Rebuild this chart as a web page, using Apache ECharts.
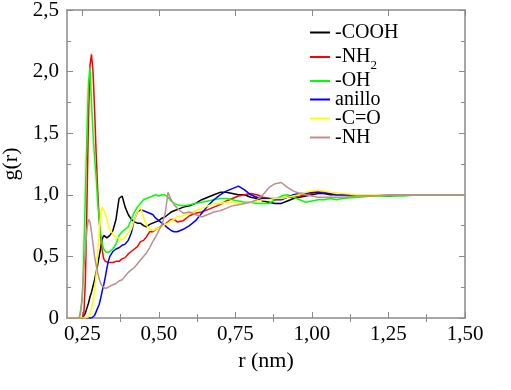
<!DOCTYPE html>
<html><head><meta charset="utf-8">
<script src="https://cdn.jsdelivr.net/npm/echarts@6/dist/echarts.min.js"></script>
<style>html,body{margin:0;padding:0;background:#fff}#c{width:511px;height:390px}</style>
</head><body><div id="c"></div>
<script>
// r (nm)
const r = [0.20,0.22,0.23,0.24,0.245,0.25,0.255,0.26,0.265,0.27,
  0.275,0.28,0.285,0.29,0.295,0.30,0.305,0.31,0.315,0.32,
  0.325,0.33,0.335,0.34,0.35,0.36,0.37,0.38,0.39,0.40,
  0.41,0.42,0.43,0.44,0.45,0.46,0.47,0.48,0.49,0.50,
  0.51,0.52,0.53,0.54,0.55,0.56,0.58,0.60,0.62,0.64,
  0.66,0.68,0.70,0.72,0.74,0.76,0.78,0.80,0.82,0.84,
  0.86,0.88,0.90,0.92,0.94,0.96,0.98,1.00,1.02,1.04,
  1.06,1.08,1.10,1.15,1.20,1.25,1.30,1.35,1.40,1.45,1.50];

const gCOOH = [0,0,0,0,0,0,0.01,0.04,0.08,0.12,
  0.17,0.21,0.26,0.31,0.37,0.43,0.5,0.57,0.64,0.67,
  0.66,0.65,0.66,0.67,0.71,0.8,0.97,0.99,0.9,0.84,
  0.8,0.78,0.77,0.77,0.75,0.74,0.76,0.77,0.78,0.79,
  0.81,0.82,0.84,0.86,0.87,0.88,0.9,0.91,0.93,0.96,
  0.98,1.0,1.02,1.02,1.01,1.0,1.0,0.98,0.97,0.95,
  0.94,0.93,0.93,0.95,0.97,0.98,0.99,1.0,1.01,1.01,
  1.0,1.0,1.0,1.0,1.0,0.99,1.0,1.0,1.0,1.0,1.0];

const gNH2 = [0,0,0,0,0,0,0.03,0.3,0.9,1.6,
  2.05,2.14,2.0,1.7,1.35,1.05,0.8,0.65,0.55,0.48,
  0.46,0.45,0.45,0.45,0.45,0.46,0.46,0.48,0.49,0.52,
  0.54,0.56,0.58,0.62,0.63,0.66,0.7,0.7,0.72,0.73,
  0.75,0.76,0.78,0.8,0.8,0.78,0.79,0.83,0.85,0.86,
  0.88,0.9,0.92,0.95,0.97,0.99,1.0,1.01,1.0,0.98,
  0.97,0.97,0.97,0.98,0.98,0.99,1.0,1.01,1.02,1.02,
  1.01,1.01,1.0,1.0,1.0,1.0,1.0,1.0,1.0,1.0,1.0];

const gOH = [0,0,0,0,0,0.15,0.55,1.0,1.5,1.9,
  2.03,1.75,1.5,1.3,1.15,0.95,0.8,0.68,0.6,0.56,
  0.54,0.53,0.53,0.54,0.56,0.6,0.67,0.7,0.72,0.74,
  0.8,0.86,0.9,0.93,0.96,0.97,0.98,0.99,1.0,0.99,
  1.0,1.0,0.98,0.95,0.93,0.92,0.91,0.92,0.93,0.94,
  0.95,0.96,0.97,0.97,0.96,0.95,0.94,0.94,0.93,0.93,
  0.93,0.96,0.99,1.0,0.98,0.96,0.94,0.95,0.96,0.96,
  0.97,0.96,0.97,0.98,0.99,0.99,0.99,1.0,1.0,1.0,1.0];

const gAnillo = [0,0,0,0,0,0,0,0,0,0,
  0,0,0.01,0.02,0.05,0.08,0.11,0.16,0.22,0.27,
  0.33,0.4,0.46,0.5,0.54,0.56,0.57,0.59,0.6,0.63,
  0.69,0.8,0.86,0.88,0.87,0.86,0.85,0.84,0.81,0.79,
  0.77,0.75,0.73,0.71,0.7,0.7,0.72,0.75,0.79,0.85,
  0.91,0.96,1.0,1.03,1.05,1.07,1.04,1.0,0.98,0.97,
  0.97,0.96,0.96,0.98,1.0,1.01,1.01,1.02,1.02,1.01,
  1.01,1.0,1.0,1.0,1.0,1.0,1.0,1.0,1.0,1.0,1.0];

const gCO = [0,0,0,0,0,0,0,0,0,0.01,
  0.03,0.07,0.13,0.22,0.35,0.52,0.7,0.84,0.9,0.89,
  0.85,0.8,0.75,0.72,0.68,0.65,0.65,0.63,0.66,0.69,
  0.72,0.8,0.86,0.9,0.82,0.75,0.72,0.71,0.72,0.73,
  0.74,0.76,0.77,0.79,0.8,0.82,0.83,0.85,0.87,0.89,
  0.91,0.93,0.93,0.94,0.94,0.93,0.93,0.94,0.95,0.96,
  0.96,0.97,0.97,0.98,0.99,1.0,1.02,1.03,1.04,1.03,
  1.02,1.01,1.01,1.0,1.0,1.0,1.0,1.0,1.0,1.0,1.0];

const gNH = [0,0,0,0,0.05,0.2,0.4,0.55,0.72,0.8,
  0.78,0.7,0.6,0.5,0.43,0.37,0.32,0.28,0.26,0.25,
  0.24,0.24,0.25,0.26,0.27,0.28,0.3,0.31,0.34,0.37,
  0.39,0.41,0.44,0.47,0.5,0.53,0.57,0.62,0.66,0.71,
  0.76,0.84,1.02,0.96,0.92,0.89,0.85,0.86,0.84,0.82,
  0.84,0.86,0.87,0.89,0.91,0.92,0.93,0.94,0.96,1.0,
  1.06,1.09,1.1,1.06,1.03,1.01,1.0,0.99,0.98,0.98,
  0.98,0.98,0.98,0.99,0.99,1.0,1.0,1.0,1.0,1.0,1.0];

const seriesNames = ['-COOH','-NH2','-OH','anillo','-C=O','-NH'];
const seriesColors = ['#000000','#ff0000','#00ff00','#0000ff','#ffff00','#bc8f8f'];
const seriesValues = [gCOOH,gNH2,gOH,gAnillo,gCO,gNH];

const xTickValues = [0.25,0.5,0.75,1.0,1.25,1.5];
const xTickLabels = ['0,25','0,50','0,75','1,00','1,25','1,50'];
const xMinorValues = [0.375,0.625,0.875,1.125,1.375];
const yTickValues = [0,0.5,1.0,1.5,2.0,2.5];
const yTickLabels = ['0','0,5','1,0','1,5','2,0','2,5'];

const FONT = 'Liberation Serif';
const AX = '#8a8a8a';
// legend row tops (layout)
const LEGEND_TOPS = [22.5, 42, 71, 89.5, 108.5, 127.5];

function lab(vals, labels){
  return v => { for (let i=0;i<vals.length;i++){ if (Math.abs(vals[i]-v)<1e-6) return labels[i]; } return ''; };
}

const legends = seriesNames.map((n,i) => ({
  orient:'vertical', left:310, top:LEGEND_TOPS[i], padding:0,
  itemWidth:20, itemHeight:2, icon:'rect',
  data:[n],
  formatter: nm => nm === '-NH2' ? '{m|-NH}{sub|2}{pad|}' : nm,
  textStyle:{fontFamily:FONT, fontSize:20, color:'#000', lineHeight:20,
    rich:{
      m:{fontFamily:FONT, fontSize:20, color:'#000', lineHeight:20, verticalAlign:'middle'},
      sub:{fontFamily:FONT, fontSize:13, color:'#000', lineHeight:13, verticalAlign:'bottom'},
      pad:{fontSize:13, lineHeight:30, verticalAlign:'middle'}
    }}
}));

const baseX = {type:'value', min:0.2, max:1.5, splitLine:{show:false}};
const chart = echarts.init(document.getElementById('c'));
chart.setOption({
  animation:false,
  backgroundColor:'#fff',
  grid:{left:67, top:10, right:46, bottom:72, outerBoundsMode:'none', containLabel:false},
  legend: legends,
  xAxis:[
    Object.assign({}, baseX, {position:'bottom',
      axisLine:{show:true, onZero:false, lineStyle:{color:AX, width:1.5}},
      axisTick:{show:true, inside:true, length:6, customValues:xTickValues, lineStyle:{color:AX}},
      axisLabel:{customValues:xTickValues, formatter:lab(xTickValues,xTickLabels), color:'#000', fontFamily:FONT, fontSize:21, margin:6},
      name:'r (nm)', nameLocation:'middle', nameGap:28,
      nameTextStyle:{fontFamily:FONT, fontSize:22, color:'#000'}}),
    Object.assign({}, baseX, {position:'bottom',
      axisLine:{show:false},
      axisTick:{show:true, inside:true, length:4, customValues:xMinorValues, lineStyle:{color:AX}},
      axisLabel:{show:false}}),
    Object.assign({}, baseX, {position:'top',
      axisLine:{show:true, onZero:false, lineStyle:{color:AX, width:1.5}},
      axisTick:{show:true, inside:true, length:6, customValues:xTickValues, lineStyle:{color:AX}},
      axisLabel:{show:false}}),
    Object.assign({}, baseX, {position:'top',
      axisLine:{show:false},
      axisTick:{show:true, inside:true, length:4, customValues:xMinorValues, lineStyle:{color:AX}},
      axisLabel:{show:false}})
  ],
  yAxis:[
    {type:'value', position:'left', min:0, max:2.5, interval:0.5, splitLine:{show:false},
      axisLine:{show:true, onZero:false, lineStyle:{color:AX, width:1.5}},
      axisTick:{show:true, inside:true, length:6, lineStyle:{color:AX}},
      minorTick:{show:true, splitNumber:2, length:4, lineStyle:{color:AX}},
      axisLabel:{formatter:lab(yTickValues,yTickLabels), color:'#000', fontFamily:FONT, fontSize:21, margin:8},
      name:'g(r)', nameLocation:'middle', nameGap:26, nameRotate:90,
      nameTextStyle:{fontFamily:FONT, fontSize:22, color:'#000'}},
    {type:'value', position:'right', min:0, max:2.5, interval:0.5, splitLine:{show:false},
      axisLine:{show:true, onZero:false, lineStyle:{color:AX, width:1.5}},
      axisTick:{show:true, inside:true, length:6, lineStyle:{color:AX}},
      minorTick:{show:true, splitNumber:2, length:4, lineStyle:{color:AX}},
      axisLabel:{show:false}}
  ],
  series: seriesNames.map((n,i) => ({
    name:n, type:'line', xAxisIndex:0, yAxisIndex:0, symbol:'none',
    color:seriesColors[i], lineStyle:{width:1.5, color:seriesColors[i]},
    data: r.map((x,j) => [x, seriesValues[i][j]])
  }))
});
</script>
</body></html>
